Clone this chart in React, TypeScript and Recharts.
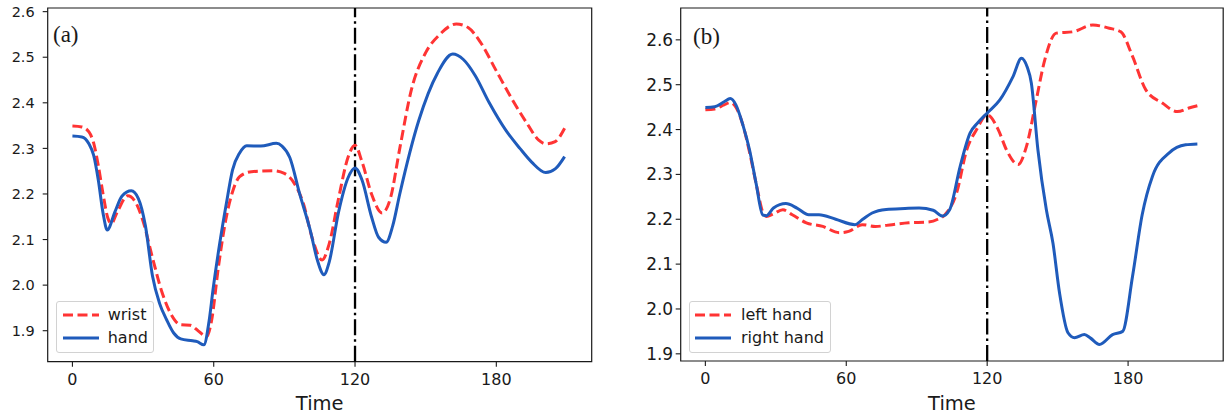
import React from "react";
import { LineChart, Line, XAxis, YAxis, ReferenceLine, ReferenceArea } from "recharts";

// Panel (a)
const wristT = [0, 4, 7, 9, 11, 13, 15, 16.5, 19, 23.5, 27, 30, 34, 38, 42, 46, 50, 54, 57, 59, 62, 65, 68, 71, 76, 85, 90, 94, 98, 102, 106, 109, 113, 117, 120, 123, 127, 131.5, 135, 139, 144, 150, 156, 163, 168, 173, 180, 187, 193, 198, 201, 205, 209];
const wristV = [2.349, 2.347, 2.336, 2.312, 2.262, 2.2, 2.148, 2.135, 2.16, 2.196, 2.18, 2.14, 2.06, 1.985, 1.935, 1.913, 1.912, 1.897, 1.887, 1.92, 2.04, 2.14, 2.205, 2.238, 2.249, 2.251, 2.245, 2.225, 2.18, 2.1, 2.055, 2.09, 2.19, 2.28, 2.307, 2.27, 2.2, 2.158, 2.19, 2.3, 2.43, 2.51, 2.55, 2.573, 2.565, 2.535, 2.47, 2.405, 2.355, 2.318, 2.31, 2.315, 2.344];
const handT = [0, 4, 7, 9, 11, 13, 14.8, 18, 21, 25, 28, 31, 34, 37, 40, 43, 46, 51, 53, 55.8, 58, 59.7, 62.5, 65.4, 68, 71, 74, 80, 86.6, 89, 92.3, 96.5, 101, 104, 106.8, 109, 113, 117, 120, 123, 127, 130, 133.2, 136, 139, 147, 155, 161.5, 166, 171, 177, 184, 190, 195, 201, 205, 209];
const handV = [2.327, 2.325, 2.31, 2.285, 2.23, 2.158, 2.121, 2.16, 2.195, 2.207, 2.19, 2.13, 2.02, 1.96, 1.924, 1.895, 1.882, 1.878, 1.876, 1.869, 1.92, 1.99, 2.09, 2.18, 2.253, 2.29, 2.306, 2.305, 2.311, 2.305, 2.28, 2.2, 2.12, 2.055, 2.023, 2.05, 2.16, 2.235, 2.257, 2.23, 2.15, 2.105, 2.094, 2.13, 2.2, 2.36, 2.465, 2.507, 2.495, 2.46, 2.4, 2.34, 2.3, 2.27, 2.247, 2.255, 2.282];

// Panel (b)
const leftT = [0, 4, 8, 10.6, 13, 16, 19, 22, 24.5, 26, 29, 33, 37, 43, 50, 57, 61, 66.8, 72.4, 79.5, 86.6, 95, 99, 102, 107, 111.3, 115.5, 120, 124.7, 128.2, 133.2, 136.7, 140.9, 144.5, 149.4, 156.5, 165, 172, 176.9, 181.9, 187.5, 194.6, 201, 205.9, 209.5];
const leftV = [2.444, 2.446, 2.455, 2.46, 2.45, 2.41, 2.345, 2.27, 2.215, 2.206, 2.212, 2.221, 2.21, 2.192, 2.184, 2.17, 2.173, 2.188, 2.184, 2.188, 2.192, 2.194, 2.2, 2.21, 2.259, 2.355, 2.4, 2.433, 2.4, 2.355, 2.322, 2.362, 2.466, 2.555, 2.615, 2.618, 2.633, 2.626, 2.618, 2.563, 2.489, 2.459, 2.44, 2.448, 2.453];
const rightT = [0, 4, 8, 10.6, 13, 16, 18.8, 21.6, 24.4, 26, 29, 34.3, 39, 44, 48.4, 55.5, 63.7, 67, 71, 77, 85, 91, 97, 101, 104, 108.5, 112.7, 116, 120, 125.4, 131, 134.6, 137, 138.8, 141.6, 145.2, 148, 150.8, 154.4, 157.2, 161.4, 164, 167.8, 173.4, 177.7, 181.9, 186, 190.4, 197.5, 204.5, 209.5];
const rightV = [2.449, 2.451, 2.462, 2.469, 2.455, 2.41, 2.355, 2.28, 2.21, 2.208, 2.225, 2.235, 2.225, 2.21, 2.21, 2.2, 2.188, 2.2, 2.214, 2.222, 2.224, 2.225, 2.22, 2.207, 2.221, 2.318, 2.392, 2.415, 2.437, 2.466, 2.518, 2.559, 2.54, 2.504, 2.355, 2.221, 2.147, 2.036, 1.947, 1.936, 1.943, 1.935, 1.921, 1.943, 1.95, 2.073, 2.21, 2.296, 2.348, 2.366, 2.368];

const xTicks = [0, 60, 120, 180];
const yTicks = [1.9, 2.0, 2.1, 2.2, 2.3, 2.4, 2.5, 2.6];
const xDomain: [number, number] = [-10.5, 220.5];
const eventTime = 120;

const RED = "#ff3434";
const BLUE = "#1f5bbb";
const INK = "#1a1a1a";
const FONT = "DejaVu Sans";

const zip = (t: number[], v: number[]) => t.map((x, i) => ({ t: x, v: v[i] }));

type PanelProps = {
  left: number;
  width: number;
  yAxisWidth: number;
  marginRight: number;
  xAxisHeight: number;
  yDomain: [number, number];
  yTickFont: number;
  yTickMargin: number;
  dashedT: number[];
  dashedV: number[];
  solidT: number[];
  solidV: number[];
  dashedName: string;
  solidName: string;
  legendBox: { left: number; width: number; sampleLeft: number };
};

const LegendBox = (p: PanelProps) => (
  <div
    style={{
      position: "absolute",
      left: p.legendBox.left,
      top: 300.7,
      width: p.legendBox.width,
      height: 52.6,
      boxSizing: "border-box",
      border: "1px solid #d2d2d2",
      borderRadius: 3,
      background: "rgba(255,255,255,0.85)",
      fontFamily: FONT,
      fontSize: 16,
      color: INK,
    }}
  >
    {[
      { name: p.dashedName, dashed: true, y: 13 },
      { name: p.solidName, dashed: false, y: 36.5 },
    ].map((row) => (
      <div key={row.name}>
        <svg
          style={{ position: "absolute", left: p.legendBox.sampleLeft, top: row.y - 3 }}
          width={36}
          height={6}
        >
          <line
            x1={0}
            x2={36}
            y1={3}
            y2={3}
            stroke={row.dashed ? RED : BLUE}
            strokeWidth={3}
            strokeDasharray={row.dashed ? "10 4.5" : undefined}
          />
        </svg>
        <span
          style={{
            position: "absolute",
            left: 51,
            top: row.y - 11,
            lineHeight: "22px",
            whiteSpace: "nowrap",
          }}
        >
          {row.name}
        </span>
      </div>
    ))}
  </div>
);

const Panel = (p: PanelProps) => (
  <div style={{ position: "absolute", left: p.left, top: 0, width: p.width, height: 415 }}>
    <LineChart
      width={p.width}
      height={415}
      margin={{ top: 8, right: p.marginRight, bottom: 0, left: 0 }}
    >
      <XAxis
        dataKey="t"
        type="number"
        domain={xDomain}
        ticks={xTicks}
        allowDataOverflow
        height={p.xAxisHeight}
        axisLine={false}
        tickLine={{ stroke: INK, strokeWidth: 1.1 }}
        tickSize={5}
        tickMargin={7}
        tick={{ fill: INK, fontSize: 16, fontFamily: FONT }}
        label={{
          value: "Time",
          position: "insideBottom",
          offset: 5,
          fill: INK,
          fontSize: 19.5,
          fontFamily: FONT,
        }}
      />
      <YAxis
        dataKey="v"
        type="number"
        domain={p.yDomain}
        ticks={yTicks}
        allowDataOverflow
        width={p.yAxisWidth}
        axisLine={false}
        tickLine={{ stroke: INK, strokeWidth: 1.1 }}
        tickSize={5}
        tickMargin={p.yTickMargin}
        tickFormatter={(v: number) => v.toFixed(1)}
        tick={{ fill: INK, fontSize: p.yTickFont, fontFamily: FONT }}
      />
      <ReferenceArea
        x1={xDomain[0]}
        x2={xDomain[1]}
        y1={p.yDomain[0]}
        y2={p.yDomain[1]}
        fill="none"
        fillOpacity={0}
        stroke={INK}
        strokeWidth={1.2}
        ifOverflow="visible"
      />
      <ReferenceLine
        x={eventTime}
        stroke="#000"
        strokeWidth={2.3}
        strokeDasharray="16 4 2.5 4"
        ifOverflow="visible"
      />
      <Line
        data={zip(p.dashedT, p.dashedV)}
        dataKey="v"
        name={p.dashedName}
        type="monotone"
        stroke={RED}
        strokeWidth={3}
        strokeDasharray="10 4.5"
        dot={false}
        activeDot={false}
        isAnimationActive={false}
      />
      <Line
        data={zip(p.solidT, p.solidV)}
        dataKey="v"
        name={p.solidName}
        type="monotone"
        stroke={BLUE}
        strokeWidth={3}
        dot={false}
        activeDot={false}
        isAnimationActive={false}
      />
    </LineChart>
    <LegendBox {...p} />
  </div>
);

export default function App() {
  return (
    <div
      style={{
        position: "absolute",
        left: 0,
        top: 0,
        width: 1225,
        height: 415,
        background: "#fff",
        overflow: "hidden",
      }}
    >
      <Panel
        left={0}
        width={600}
        yAxisWidth={47.7}
        marginRight={8.3}
        xAxisHeight={53.3}
        yDomain={[1.832, 2.608]}
        yTickFont={14.5}
        yTickMargin={8}
        dashedT={wristT}
        dashedV={wristV}
        solidT={handT}
        solidV={handV}
        dashedName="wrist"
        solidName="hand"
        legendBox={{ left: 55.7, width: 98.5, sampleLeft: 6 }}
      />
      <Panel
        left={620}
        width={605}
        yAxisWidth={60.7}
        marginRight={1.8}
        xAxisHeight={54}
        yDomain={[1.884, 2.671]}
        yTickFont={17}
        yTickMargin={2.5}
        dashedT={leftT}
        dashedV={leftV}
        solidT={rightT}
        solidV={rightV}
        dashedName="left hand"
        solidName="right hand"
        legendBox={{ left: 69, width: 142, sampleLeft: 5 }}
      />
      <svg
        width={1225}
        height={415}
        style={{ position: "absolute", left: 0, top: 0, pointerEvents: "none" }}
      >
        <text x={53} y={42} fontFamily="Liberation Serif" fontSize={23} fill={INK}>
          (a)
        </text>
        <text x={693} y={44} fontFamily="Liberation Serif" fontSize={23} fill={INK}>
          (b)
        </text>
      </svg>
    </div>
  );
}
